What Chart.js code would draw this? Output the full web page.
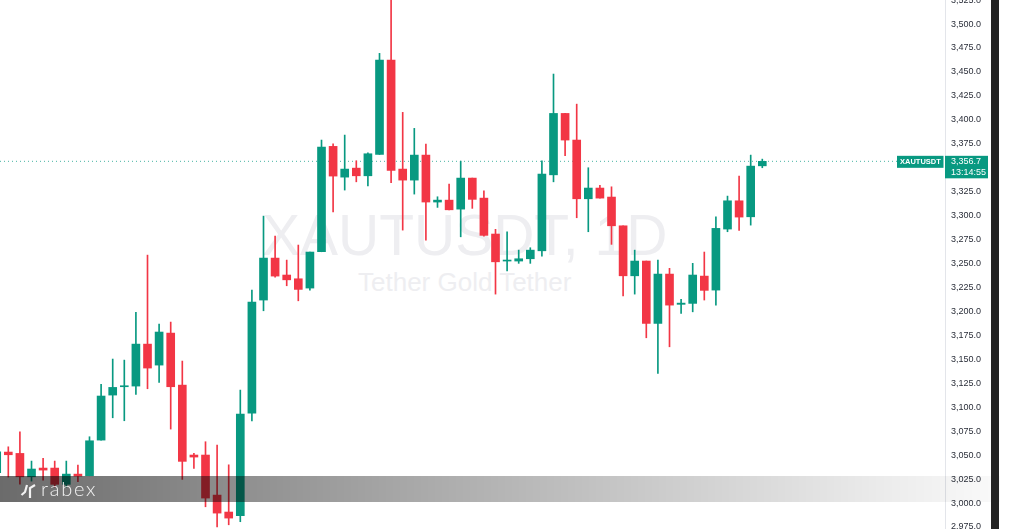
<!DOCTYPE html>
<html lang="en">
<head>
    <meta charset="UTF-8">
    <title>XAUTUSDT</title>
    <script src="https://cdn.jsdelivr.net/npm/chart.js"></script>
    <style>
        html, body { margin: 0; padding: 0; background: #fff; overflow: hidden; }
        .wrap { position: relative; width: 1015px; height: 529px; overflow: hidden; font-family: "Liberation Sans", Arial, sans-serif; }
        canvas { position: absolute; left: 0; top: 0; }
        .mark1 { position: absolute; left: 262px; top: 202px; font-size: 57px; line-height: 66px; color: #eeeef1; white-space: nowrap; }
        .mark2 { position: absolute; left: 358px; top: 267px; font-size: 26px; line-height: 30px; color: #eeeef1; white-space: nowrap; }
        .band { position: absolute; left: 0; top: 476px; width: 1000px; height: 26px;
                background: linear-gradient(to right, rgba(0,0,0,.58), rgba(0,0,0,.38) 340px, rgba(0,0,0,.08) 880px, rgba(0,0,0,.02) 1000px); }
        .logo { position: absolute; left: 0; top: 476px; }
        .rabex { position: absolute; left: 41px; top: 476px; font-family: Lato, sans-serif; font-weight: 300; font-size: 20px; line-height: 24px; letter-spacing: 1.8px; color: #f2f2f2; }
        .strip { position: absolute; left: 991px; top: 0; width: 8px; height: 529px; background: #232323; }
    </style>
</head>
<body>
    <div class="wrap">
        <div class="mark1">XAUTUSDT, 1D</div>
        <div class="mark2">Tether Gold Tether</div>
        <canvas id="chart" width="1015" height="529"></canvas>
        <div class="band"></div>
        <svg class="logo" width="40" height="26" fill="none" stroke="#f2f2f2" stroke-width="2.2">
            <path d="M27 9 L25 16 L21.5 19"/>
            <path d="M35 9 L30 12 L30 22"/>
        </svg>
        <div class="rabex">rabex</div>
        <div class="strip"></div>
    </div>

    <script>
        // candles, oldest first
        const opens = [3031.6, 3053.2, 3051.8, 3027.4, 3036.5, 3036.5, 3019.5, 3030.2, 3028.5, 3065.7, 3112.7, 3121.4, 3122.1, 3165.9, 3144.0, 3177.4, 3123.1, 3050.1, 3050.1, 3008.3, 2990.6, 2986.7, 3093.9, 3211.9, 3255.7, 3238.0, 3234.1, 3224.4, 3262.3, 3372.3, 3340.2, 3349.6, 3341.6, 3363.9, 3462.4, 3348.6, 3337.1, 3363.2, 3314.2, 3316.2, 3306.8, 3339.2, 3318.3, 3280.8, 3252.6, 3252.6, 3255.0, 3263.3, 3342.6, 3406.7, 3378.9, 3317.6, 3328.8, 3319.4, 3289.4, 3237.2, 3252.6, 3187.5, 3239.0, 3207.4, 3208.4, 3236.9, 3222.3, 3286.0, 3315.5, 3298.8, 3352.0];
        const highs = [3059.5, 3058.7, 3074.4, 3043.8, 3046.6, 3043.8, 3043.8, 3039.6, 3069.2, 3123.9, 3150.3, 3149.2, 3199.0, 3258.8, 3186.8, 3188.9, 3148.2, 3051.8, 3064.0, 3060.5, 3039.9, 3117.9, 3222.3, 3299.5, 3278.7, 3253.6, 3269.3, 3262.0, 3378.9, 3375.0, 3384.1, 3357.3, 3365.6, 3469.4, 3530.0, 3407.8, 3391.1, 3374.7, 3319.7, 3332.9, 3356.9, 3339.2, 3325.9, 3285.7, 3283.2, 3264.0, 3266.5, 3357.3, 3447.8, 3406.7, 3416.4, 3350.0, 3331.6, 3330.1, 3289.4, 3264.0, 3252.6, 3253.6, 3245.0, 3212.6, 3250.2, 3262.0, 3298.8, 3320.4, 3341.3, 3363.2, 3359.0];
        const lows = [3028.0, 3027.1, 3019.8, 3022.9, 3024.0, 3016.7, 3016.7, 3022.2, 3028.5, 3065.7, 3089.0, 3085.9, 3113.4, 3119.3, 3126.0, 3077.2, 3024.7, 3036.2, 2996.1, 2975.2, 2977.3, 2980.5, 3085.6, 3200.7, 3235.9, 3226.8, 3211.1, 3222.3, 3262.3, 3304.0, 3326.7, 3335.3, 3330.9, 3363.9, 3334.3, 3284.9, 3322.5, 3274.5, 3308.6, 3306.1, 3277.9, 3307.6, 3278.7, 3218.1, 3242.4, 3250.2, 3250.2, 3257.8, 3335.3, 3362.5, 3297.8, 3283.2, 3318.3, 3270.0, 3216.3, 3218.1, 3172.5, 3135.3, 3163.1, 3198.0, 3199.6, 3211.9, 3206.6, 3283.2, 3284.6, 3290.1, 3350.0];
        const closes = [3053.5, 3050.4, 3027.4, 3035.5, 3034.4, 3019.5, 3030.2, 3028.1, 3065.0, 3111.7, 3120.7, 3122.1, 3165.9, 3140.9, 3178.5, 3121.4, 3043.5, 3048.0, 3005.2, 2989.5, 2984.3, 3092.9, 3209.8, 3255.7, 3236.9, 3233.0, 3223.0, 3262.0, 3371.6, 3341.3, 3348.6, 3341.6, 3364.6, 3462.4, 3347.2, 3337.1, 3363.2, 3314.2, 3316.2, 3306.1, 3339.2, 3317.0, 3279.4, 3251.8, 3253.6, 3255.0, 3264.0, 3343.4, 3406.7, 3378.9, 3317.6, 3328.8, 3318.3, 3289.4, 3237.2, 3252.6, 3187.5, 3239.0, 3206.6, 3208.7, 3238.0, 3222.0, 3286.7, 3315.5, 3298.5, 3351.7, 3356.7];
        const tickValues = [3525, 3500, 3475, 3450, 3425, 3400, 3375, 3325, 3300, 3275, 3250, 3225, 3200, 3175, 3150, 3125, 3100, 3075, 3050, 3025, 3000, 2975];
        const lastPrice = 3356.7;
        const symbol = 'XAUTUSDT';
        const countdown = '13:14:55';

        const UP = '#089981';
        const DOWN = '#F23645';
        const colors = closes.map((c, i) => c >= opens[i] ? UP : DOWN);

        function fmt(v) {
            return v.toLocaleString('en-US', { minimumFractionDigits: 1, maximumFractionDigits: 1 });
        }

        // dotted last price line and the two tags on the axis
        const lastPricePlugin = {
            id: 'lastPrice',
            beforeDatasetsDraw(chart) {
                const c = chart.ctx;
                const y = chart.scales.y.getPixelForValue(lastPrice);
                c.save();
                c.strokeStyle = 'rgba(8,153,129,.75)';
                c.lineWidth = 1;
                c.setLineDash([1, 3]);
                c.beginPath();
                c.moveTo(0, y);
                c.lineTo(897, y);
                c.stroke();
                c.restore();
            },
            afterDraw(chart) {
                const c = chart.ctx;
                const y = chart.scales.y.getPixelForValue(lastPrice);
                c.save();
                c.fillStyle = UP;
                c.fillRect(897, y - 5.5, 46.5, 12);
                c.fillRect(945, y - 5.5, 43, 22.5);
                c.fillStyle = '#fff';
                c.textBaseline = 'middle';
                c.font = 'bold 7.5px "Liberation Sans"';
                c.fillText(symbol, 900, y + 0.5);
                c.font = '9px "Liberation Sans"';
                c.fillText(fmt(lastPrice), 951, y + 0.5);
                c.fillText(countdown, 951, y + 11);
                c.restore();
            }
        };

        new Chart(document.getElementById('chart').getContext('2d'), {
            type: 'bar',
            data: {
                datasets: [
                    {
                        label: 'body',
                        data: opens.map((o, i) => ({ x: i, y: [o, closes[i]] })),
                        backgroundColor: colors,
                        barThickness: 8,
                        minBarLength: 1,
                        grouped: false,
                        order: 1
                    },
                    {
                        label: 'wick',
                        data: lows.map((l, i) => ({ x: i, y: [l, highs[i]] })),
                        backgroundColor: colors,
                        barThickness: 1,
                        grouped: false,
                        order: 2
                    }
                ]
            },
            plugins: [lastPricePlugin],
            options: {
                responsive: false,
                animation: false,
                layout: { padding: 0 },
                plugins: {
                    legend: { display: false },
                    tooltip: { enabled: false }
                },
                scales: {
                    x: {
                        type: 'linear',
                        offset: false,
                        min: 0.284,
                        max: 81.75,
                        display: false,
                        grid: { display: false, offset: false }
                    },
                    y: {
                        position: 'right',
                        min: 2972.9,
                        max: 3525.1,
                        grid: { display: false, drawTicks: false },
                        border: { color: '#e3e5ea', width: 1 },
                        // chart runs to the edge of the canvas, labels get cut there
                        afterFit(scale) {
                            scale.width = 70;
                            scale.paddingTop = 0;
                            scale.paddingBottom = 0;
                        },
                        afterBuildTicks(scale) { scale.ticks = tickValues.map(v => ({ value: v })); },
                        ticks: {
                            autoSkip: false,
                            padding: 6,
                            color: '#2a2e39',
                            font: { family: '"Liberation Sans"', size: 9 },
                            callback: v => fmt(v)
                        }
                    }
                }
            }
        });
    </script>
</body>
</html>
